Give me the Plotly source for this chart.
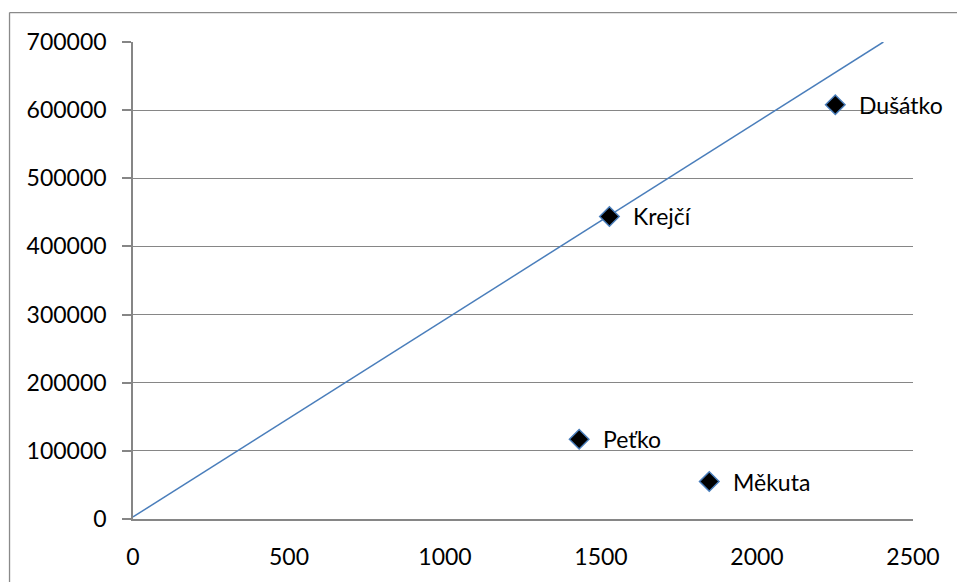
import plotly.graph_objects as go

# Surnames with their two measured quantities
names = ["Dušátko", "Krejčí", "Peťko", "Měkuta"]
x_vals = [2251, 1527, 1430, 1847]
y_vals = [608000, 444000, 117000, 55000]

# Straight reference line (end points)
line_x = [0, 2405]
line_y = [3000, 700000]

x_ticks = [0, 500, 1000, 1500, 2000, 2500]
y_ticks = [0, 100000, 200000, 300000, 400000, 500000, 600000, 700000]
y_tick_text = [str(v) for v in y_ticks]
x_tick_text = [str(v) for v in x_ticks]

GRID = "#868686"
BLUE = "#4A7EBB"
FONT = dict(family="Lato, Calibri, sans-serif", size=23, color="#000000")

fig = go.Figure()

fig.add_trace(go.Scatter(
    x=line_x, y=line_y, mode="lines",
    line=dict(color=BLUE, width=1.5),
    hoverinfo="skip", showlegend=False, cliponaxis=True,
))

fig.add_trace(go.Scatter(
    x=x_vals, y=y_vals, mode="markers",
    marker=dict(symbol="diamond", size=15, color="#000000",
                line=dict(color=BLUE, width=1.5)),
    showlegend=False, cliponaxis=False,
))

for n, xv, yv in zip(names, x_vals, y_vals):
    fig.add_annotation(x=xv, y=yv, text=n, showarrow=False,
                       xanchor="left", yanchor="middle", xshift=22,
                       font=FONT)

# short tick marks at both ends of the horizontal axis
for xv in (x_ticks[0], x_ticks[-1]):
    fig.add_shape(type="line", xref="x", yref="y", ysizemode="pixel",
                  yanchor=0, x0=xv, x1=xv, y0=0, y1=-9,
                  line=dict(color=GRID, width=1.5))

# chart frame (left and top edges)
fig.add_shape(type="line", xref="paper", yref="paper",
              x0=-0.1583, x1=-0.1583, y0=1.0616, y1=-0.2,
              line=dict(color="#8a8a8a", width=1.3))
fig.add_shape(type="line", xref="paper", yref="paper",
              x0=-0.1583, x1=1.2, y0=1.0616, y1=1.0616,
              line=dict(color="#8a8a8a", width=1.3))

fig.update_layout(
    width=957, height=582,
    margin=dict(l=133, r=44, t=42, b=61),
    paper_bgcolor="white", plot_bgcolor="white",
    font=FONT,
    xaxis=dict(range=[0, 2500], tickvals=x_ticks, ticktext=x_tick_text,
               showgrid=False, zeroline=False, showline=True,
               linecolor=GRID, linewidth=1.5,
               ticks="", ticklabelstandoff=17, tickfont=FONT),
    yaxis=dict(range=[0, 700000], tickvals=y_ticks, ticktext=y_tick_text,
               showgrid=True, gridcolor=GRID, gridwidth=1.4, zeroline=False,
               showline=True, linecolor=GRID, linewidth=1.5,
               ticks="outside", ticklen=9, tickcolor=GRID, tickwidth=1.5,
               ticklabelstandoff=11, tickfont=FONT),
)

fig.write_html("out.html")
